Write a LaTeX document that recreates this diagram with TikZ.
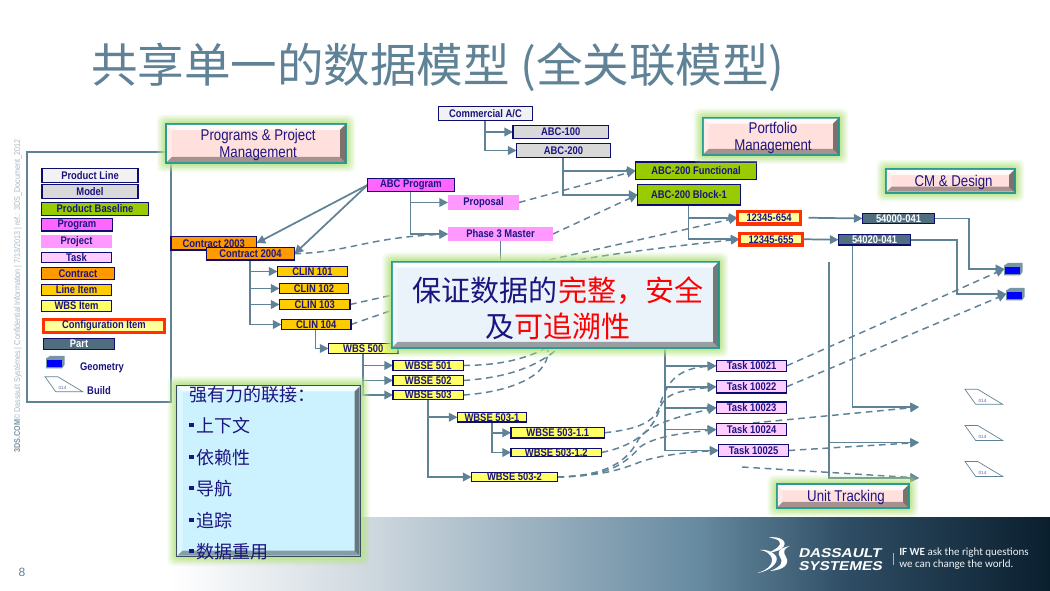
\documentclass[tikz,border=0pt]{standalone}
\usepackage{fontspec}
\setmainfont{Liberation Sans}
\newfontfamily\nar[FakeStretch=0.85]{Liberation Sans}
\newfontfamily\cjk{Noto Sans CJK SC}
\newfontfamily\wide[FakeStretch=1.2,FakeSlant=0.22]{Liberation Sans}
\newfontfamily\tagf{Carlito}
\usetikzlibrary{arrows.meta,calc}
\definecolor{steel}{HTML}{5F8296}
\definecolor{navy}{HTML}{1C1480}
\definecolor{bord}{HTML}{0D0D70}
\definecolor{teal}{HTML}{2A9C90}
\definecolor{glow}{HTML}{B8E488}
\definecolor{cline}{HTML}{F2F2F2}
\definecolor{cmodel}{HTML}{D9D9D9}
\definecolor{cbase}{HTML}{99CC00}
\definecolor{cprog}{HTML}{FF66FF}
\definecolor{cproj}{HTML}{FF99FF}
\definecolor{ctask}{HTML}{FFCCFF}
\definecolor{ccont}{HTML}{FF9900}
\definecolor{citem}{HTML}{FFCC00}
\definecolor{cwbs}{HTML}{FFFF66}
\definecolor{cci}{HTML}{FFFF99}
\definecolor{cred}{HTML}{FF3300}
\definecolor{cpink}{HTML}{FFE0DC}
\definecolor{cmid}{HTML}{EAF3FA}
\definecolor{csky}{HTML}{CCF2FF}
\definecolor{pure}{HTML}{FF0000}
\definecolor{cblue}{HTML}{0000FF}
\pgfdeclarehorizontalshading{bannerb}{100bp}{rgb(0bp)=(1,1,1);rgb(25bp)=(1,1,1);rgb(35.8bp)=(.82,.855,.88);rgb(55.1bp)=(.40,.54,.63);rgb(63.6bp)=(.18,.30,.39);rgb(75bp)=(.04,.12,.18);rgb(100bp)=(.04,.12,.18)}
\pgfdeclarelayer{back}
\pgfdeclarelayer{front}
\pgfsetlayers{back,main,front}
\tikzset{
  lab/.style={font=\fontsize{8.3}{9}\selectfont\nar\bfseries,text=navy,inner sep=0pt,outer sep=0pt},
  box/.style={lab,draw=bord,line width=0.9pt},
  plain/.style={lab},
  cibox/.style={lab,draw=cred,line width=2.4pt},
  partbox/.style={lab,draw=bord,line width=0.9pt,fill=steel!85!black,text=white},
  tree/.style={draw=steel,line width=1.3pt,-{Triangle[length=6.5pt,width=6.5pt]}},
  trunk/.style={draw=steel,line width=1.3pt},
  dsh/.style={draw=steel,line width=1.1pt,dash pattern=on 5pt off 3.5pt,-{Triangle[length=6.5pt,width=6.5pt]}},
  dshfree/.style={draw=steel,line width=1.1pt,dash pattern=on 5pt off 3.5pt},
  head/.style={font=\fontsize{11.7}{13}\selectfont\nar,text=navy,align=center,inner sep=0pt},
  big/.style={font=\fontsize{21.8}{26}\selectfont\cjk,text=navy,inner sep=0pt},
  bl/.style={font=\fontsize{13.5}{15}\selectfont\cjk,text=navy,inner sep=0pt,anchor=west},
  mini/.style={font=\fontsize{3.4}{4}\selectfont,text=navy!70!white,inner sep=0pt},
  ghost/.style={inner sep=0pt,outer sep=0pt},
  leg/.style={font=\fontsize{8.3}{9}\selectfont\nar\bfseries,text=navy,inner sep=0pt}
}
\newcommand{\bx}[7]{%
  \pgfmathsetmacro\bxw{(#4-#2)*0.75}\pgfmathsetmacro\bxh{(#5-#3)*0.75}%
  \pgfmathsetmacro\bxx{(#2+#4)/2}\pgfmathsetmacro\bxy{(#3+#5)/2}%
  \node[#6,minimum width=\bxw pt,minimum height=\bxh pt] (#1) at (\bxx,\bxy) {#7};}
% name x0 y0 x1 y1 fill border
\newcommand{\bev}[7]{%
  \foreach \d/\o in {9/0.18,7/0.25,5/0.35,3/0.5,1/0.7}{%
    \fill[glow,opacity=\o,rounded corners=4pt] (#2-\d,#3-\d) rectangle (#4+\d,#5+\d);}%
  \pgfmathsetmacro\bxw{(#4-#2)*0.75}\pgfmathsetmacro\bxh{(#5-#3)*0.75}%
  \pgfmathsetmacro\bxx{(#2+#4)/2}\pgfmathsetmacro\bxy{(#3+#5)/2}%
  \node[draw=#7,fill=#6,line width=1.3pt,inner sep=0pt,minimum width=\bxw pt,minimum height=\bxh pt] (#1) at (\bxx,\bxy) {};
  \fill[white,opacity=.85] (#2+1,#3+1) -- (#4-1,#3+1) -- (#4-6,#3+6) -- (#2+6,#3+6) -- cycle;
  \fill[white,opacity=.35] (#2+1,#3+1) -- (#2+6,#3+6) -- (#2+6,#5-6) -- (#2+1,#5-1) -- cycle;
  \fill[black,opacity=.5] (#4-1,#3+1) -- (#4-6,#3+6) -- (#4-6,#5-6) -- (#4-1,#5-1) -- cycle;
  \fill[black,opacity=.35] (#2+1,#5-1) -- (#2+6,#5-6) -- (#4-6,#5-6) -- (#4-1,#5-1) -- cycle;}
\newcommand{\cube}[3]{% name, x, y (top left)
  \path (#2+9,#3+6) node[ghost,minimum width=13pt,minimum height=8pt] (#1) {};
  \fill[steel!85!white] (#2,#3+2.5) -- (#2+4,#3) -- (#2+18.5,#3) -- (#2+18.5,#3+9) -- (#2+16,#3+12.5) -- (#2,#3+12.5) -- cycle;
  \fill[cblue] (#2+1,#3+4) rectangle (#2+15.5,#3+11);}
\newcommand{\build}[2]{% x, y top-left
  \draw[steel,line width=.5pt] (#1,#2) -- (#1+12.7,#2) -- (#1+37.7,#2+15) -- (#1+10.7,#2+15) -- cycle;
  \node[mini] at (#1+17.5,#2+11.5) {014};}
\newcommand{\bul}[1]{\fill[navy] (189,#1-2.2) rectangle (193.5,#1+2.2);}
\begin{document}
\begin{tikzpicture}[x=0.75pt,y=-0.75pt]
\useasboundingbox (0,0) rectangle (1050,591);
\begin{pgfonlayer}{back}
\fill[white] (0,0) rectangle (1050,591);
\shade[shading=bannerb] (170,518) rectangle (1050,591);
\draw[steel,line width=.8pt] (27,152) rectangle (171,402);
\end{pgfonlayer}

\node[font=\fontsize{34.9}{36}\selectfont\cjk,text=steel,anchor=west,inner sep=0pt] (title) at (91,67) {共享单一的数据模型 (全关联模型)};
\node[font=\fontsize{6.35}{7}\selectfont\nar,text=steel!55!white,rotate=90,anchor=west,inner sep=0pt] (side) at (18,453) {\textbf{\textcolor{steel!85!white}{3DS.COM}}© Dassault Systèmes | Confidential Information | 7/13/2013 | ref.: 3DS\_Document\_2012};
\node[font=\fontsize{9}{10}\selectfont,text=steel,inner sep=0pt] (pg) at (22,572) {8};

% legend
\bx{lpl}{42}{168.5}{138}{182.5}{box,fill=cline}{Product Line}
\bx{lmo}{42}{184.5}{138}{198.5}{box,fill=cmodel}{Model}
\bx{lpb}{41.5}{202.5}{148.5}{215.5}{box,fill=cbase}{Product Baseline}
\bx{lpr}{41.5}{218.5}{112.5}{231}{box,fill=cprog}{Program}
\bx{lpj}{41}{235}{112}{248}{plain,fill=cproj}{Project}
\bx{ltk}{41.5}{252.5}{111.5}{262.5}{box,fill=ctask}{Task}
\bx{lct}{41.5}{267.5}{114.5}{279.5}{box,fill=ccont}{Contract}
\bx{lli}{41.5}{284.5}{111.5}{295.5}{box,fill=citem}{Line Item}
\bx{lwb}{41.5}{300.5}{111.5}{311.5}{box,fill=cwbs}{WBS Item}
\bx{lci}{43.5}{319.5}{164.5}{332.5}{cibox,fill=cci}{Configuration Item}
\bx{lpa}{43.5}{338.5}{114.5}{349.5}{partbox}{Part}
\cube{lcube}{46}{356}
\node[leg] (lgeo) at (102,368) {Geometry};
\build{45}{376.7}
\node[leg] (lbld) at (99,391) {Build};

% tree nodes
\bx{ca}{438.5}{106.5}{532.5}{120.5}{box,fill=cline}{Commercial A/C}
\bx{a100}{513}{125.5}{608.5}{138.5}{box,fill=cmodel}{ABC-100}
\bx{a200}{516.5}{143.5}{610.5}{157.5}{box,fill=cmodel}{ABC-200}
\bx{prog}{367.5}{178.5}{454.5}{191.5}{box,fill=cprog}{ABC Program}
\bx{prop}{448}{195}{519}{210}{plain,fill=cproj}{Proposal}
\bx{ph3}{448}{227}{553}{241}{plain,fill=cproj}{Phase 3 Master}
\bx{func}{635.5}{162}{756.5}{179.5}{box,fill=cbase}{ABC-200 Functional}
\bx{blk}{637.5}{184.5}{740.5}{205}{box,fill=cbase}{ABC-200 Block-1}
\bx{p654}{737.5}{211.5}{800.5}{224}{cibox,fill=cci}{12345-654}
\bx{p655}{739.5}{233.5}{802.5}{245}{cibox,fill=cci}{12345-655}
\bx{p1}{862.5}{213.5}{934.5}{223.5}{partbox}{54000-041}
\bx{p2}{838.5}{234.5}{910.5}{245}{partbox}{54020-041}
\cube{cube1}{1004}{263}
\cube{cube2}{1006}{288}
\bx{c03}{171}{236.5}{256.5}{250}{box,fill=ccont}{Contract 2003}
\bx{c04}{206.5}{247.5}{294.5}{260}{box,fill=ccont}{Contract 2004}
\bx{c101}{277.5}{266.5}{347.5}{276.5}{box,fill=citem}{CLIN 101}
\bx{c102}{279.5}{283.5}{348.5}{293.5}{box,fill=citem}{CLIN 102}
\bx{c103}{279.5}{299.5}{350}{309.5}{box,fill=citem}{CLIN 103}
\bx{c104}{281.5}{319.5}{351}{329.5}{box,fill=citem}{CLIN 104}
\bx{w500}{328.5}{343.5}{398}{353.5}{box,fill=cwbs}{WBS 500}
\bx{w501}{393}{360.5}{463.5}{370.5}{box,fill=cwbs}{WBSE 501}
\bx{w502}{393}{375.5}{463.5}{385.5}{box,fill=cwbs}{WBSE 502}
\bx{w503}{393}{390.5}{463.5}{399.5}{box,fill=cwbs}{WBSE 503}
\bx{w5031}{457.5}{412.5}{526.5}{422}{box,fill=cwbs}{WBSE 503-1}
\bx{w50311}{511}{427.5}{604.5}{438}{box,fill=cwbs}{WBSE 503-1.1}
\bx{w50312}{511}{448.5}{601.5}{456.5}{box,fill=cwbs}{WBSE 503-1.2}
\bx{w5032}{471.5}{472.5}{557.5}{481.5}{box,fill=cwbs}{WBSE 503-2}
\bx{t21}{716.3}{360.3}{786.7}{371.3}{box,fill=ctask}{Task 10021}
\bx{t22}{716.3}{380.5}{786.7}{393}{box,fill=ctask}{Task 10022}
\bx{t23}{716.3}{402}{786.7}{413.5}{box,fill=ctask}{Task 10023}
\bx{t24}{716.3}{423.5}{786.7}{435.5}{box,fill=ctask}{Task 10024}
\bx{t25}{718.5}{444.5}{788.5}{456.5}{box,fill=ctask}{Task 10025}
\build{965}{389.3}
\build{965}{425.5}
\build{965}{461.5}
\coordinate (g1) at (919,407);
\coordinate (g2) at (919,442.5);
\coordinate (g3) at (919,478);
\coordinate (v) at (829,262);
\coordinate (s1) at (753,423);
\coordinate (s2) at (742,467);

% header boxes
\begin{pgfonlayer}{front}
\bev{hp}{166}{124}{346}{163}{cpink}{teal}{}
\node[head,xshift=1.6pt,yshift=-1.3pt] (hpt) at (hp) {Programs \& Project\\Management};
\bev{hf}{702.7}{117.7}{839}{155}{cpink}{teal}{}
\node[head,xshift=1.6pt,yshift=-1.3pt] (hft) at (hf) {Portfolio\\Management};
\bev{hc}{885.7}{169}{1015}{192.7}{cpink}{teal}{}
\node[head,xshift=2.4pt,yshift=-1.3pt] (hct) at (hc) {CM \& Design};
\bev{hu}{776.7}{484.3}{909}{508}{cpink}{teal}{}
\node[head,xshift=2.4pt,yshift=-1.3pt] (hut) at (hu) {Unit Tracking};
\bev{mid}{391.7}{261.7}{719}{348}{cmid}{teal}{}
\node[big] (mid1) at (558,291) {保证数据的\textcolor{pure}{完整，安全}};
\node[big] (mid2) at (558,326) {及\textcolor{pure}{可追溯性}};
\bev{bb}{176.5}{385.5}{360.5}{556.5}{csky}{steel!60!black}{}
\node[bl] (b0) at (189,395) {强有力的联接：};
\bul{425}\node[bl] (b1) at (196.5,426) {上下文};
\bul{457}\node[bl] (b2) at (196.5,458) {依赖性};
\bul{488}\node[bl] (b3) at (196.5,489) {导航};
\bul{520}\node[bl] (b4) at (196.5,521) {追踪};
\bul{551}\node[bl] (b5) at (196.5,552) {数据重用};
\end{pgfonlayer}

% connectors
\begin{pgfonlayer}{back}
\draw[tree] (485,0 |- ca.south) |- (a100.west);
\draw[tree] (485,0 |- ca.south) |- (a200.west);
\draw[tree] (563,0 |- a200.south) |- (func.west);
\draw[tree] (563,0 |- a200.south) |- (blk.west);
\draw[tree] (688.5,0 |- blk.south) |- (p654.west);
\draw[tree] (688.5,0 |- blk.south) |- (p655.west);
\draw[tree] ([xshift=6pt]p654.east) -- (p1.west);
\draw[tree] (p655.east) -- (p2.west);
\draw[tree] (p1.east) -- (969,0 |- p1.east) |- (cube1.west);
\draw[tree] (p2.east) -- (957,0 |- p2.east) |- (cube2.west);
\draw[tree] (prog.west) -- (c03.east);
\draw[tree] (prog.west) -- (c04.east);
\draw[tree] (410.5,0 |- prog.south) |- (prop.west);
\draw[tree] (410.5,0 |- prog.south) |- (ph3.west);
\draw[trunk] (ph3.south) -- (ph3.south |- mid.north);
\draw[tree] (250,0 |- c04.south) |- (c101.west);
\draw[tree] (250,0 |- c04.south) |- (c102.west);
\draw[tree] (250,0 |- c04.south) |- (c103.west);
\draw[tree] (250,0 |- c04.south) |- (c104.west);
\draw[tree] (315.5,0 |- c104.south) |- (w500.west);
\draw[tree] (363,0 |- w500.south) |- (w501.west);
\draw[tree] (363,0 |- w500.south) |- (w502.west);
\draw[tree] (363,0 |- w500.south) |- (w503.west);
\draw[tree] (428,0 |- w503.south) |- (w5031.west);
\draw[tree] (428,0 |- w503.south) |- (w5032.west);
\draw[tree] (492,0 |- w5031.south) |- (w50311.west);
\draw[tree] (492,0 |- w5031.south) |- (w50312.west);
\draw[tree] (665,0 |- mid.south) |- (t21.west);
\draw[tree] (665,0 |- mid.south) |- (t22.west);
\draw[tree] (665,0 |- mid.south) |- (t23.west);
\draw[tree] (665,0 |- mid.south) |- (t24.west);
\draw[tree] (665,0 |- mid.south) |- (t25.west);
\draw[tree] (v) |- (g2);
\draw[tree] (v) |- (g3);
\draw[tree] (852.6,0 |- p2.south) |- (g1);
% dashed
\draw[dsh] (c04.east) .. controls (350,252) and (365,238) .. (ph3.west);
\draw[dsh] (prop.east) -- (func.west);
\draw[dsh] (ph3.east) -- (blk.west);
\draw[dsh] (c103.east) -- (p654.west);
\draw[dsh] (c104.east) .. controls (480,280) and (520,262) .. (p655.west);
\draw[dshfree] (w501.east) .. controls (500,365) and (525,360) .. (552,345);
\draw[dshfree] (w502.east) .. controls (500,378) and (535,370) .. (562,345);
\draw[dshfree] (w503.east) .. controls (510,392) and (555,375) .. (547,345);
\draw[dsh] (w50311.east) .. controls (630,430) and (655,425) .. (660,405) .. controls (667,380) and (680,368) .. (t21.west);
\draw[dsh] (w50312.east) .. controls (640,445) and (655,425) .. (660,408) .. controls (665,392) and (685,390) .. (t22.west);
\draw[dsh] (w5032.east) .. controls (600,476) and (625,465) .. (637,442) .. controls (645,425) and (680,416) .. (t23.west);
\draw[dsh] (w5032.east) .. controls (600,476) and (620,470) .. (640,447) .. controls (655,436) and (685,433) .. (t24.west);
\draw[dsh] (w5032.east) .. controls (600,476) and (620,470) .. (640,462) .. controls (660,455) and (690,452) .. (t25.west);
\draw[dsh] (t21.east) -- (cube1.west);
\draw[dsh] (t22.east) -- (cube2.west);
\draw[dsh] (s1) -- (g1);
\draw[dsh] (t25.east) -- (g2);
\draw[dsh] (s2) -- (g3);
\end{pgfonlayer}

% logo
\fill[white] (757,573) .. controls (770,570) and (777,560) .. (768,553) .. controls (765,551) and (762,550) .. (760,550) .. controls (765,549) and (772,551) .. (776,556) .. controls (780,563) and (768,572) .. (757,573) -- cycle;
\fill[white] (768,553) .. controls (776,549) and (783,545) .. (779,541) .. controls (777,539) and (772,538) .. (769,537.5) .. controls (778,536) and (787,540) .. (784,546) .. controls (782,550) and (775,552) .. (768,553) -- cycle;
\fill[white] (790,546) .. controls (778,548) and (777,553) .. (780,557) .. controls (783,561) and (783,566) .. (770,571) .. controls (784,570) and (790,564) .. (786,557) .. controls (783,552) and (783,549) .. (790,546) -- cycle;
\node[font=\fontsize{9.6}{10}\selectfont\wide\bfseries,text=white,anchor=west,inner sep=0pt] (ds1) at (798,553.5) {DASSAULT};
\node[font=\fontsize{9.6}{10}\selectfont\wide\bfseries,text=white,anchor=west,inner sep=0pt] (ds2) at (798,566) {SYSTEMES};
\draw[white,opacity=.6,line width=.4pt] (893,553) -- (893,565);
\node[font=\fontsize{8.25}{9}\selectfont\tagf,text=white!90!steel,anchor=west,inner sep=0pt] (tg1) at (899,553) {\textbf{IF WE} ask the right questions};
\node[font=\fontsize{8.25}{9}\selectfont\tagf,text=white!90!steel,anchor=west,inner sep=0pt] (tg2) at (899,565) {we can change the world.};
\end{tikzpicture}
\end{document}
